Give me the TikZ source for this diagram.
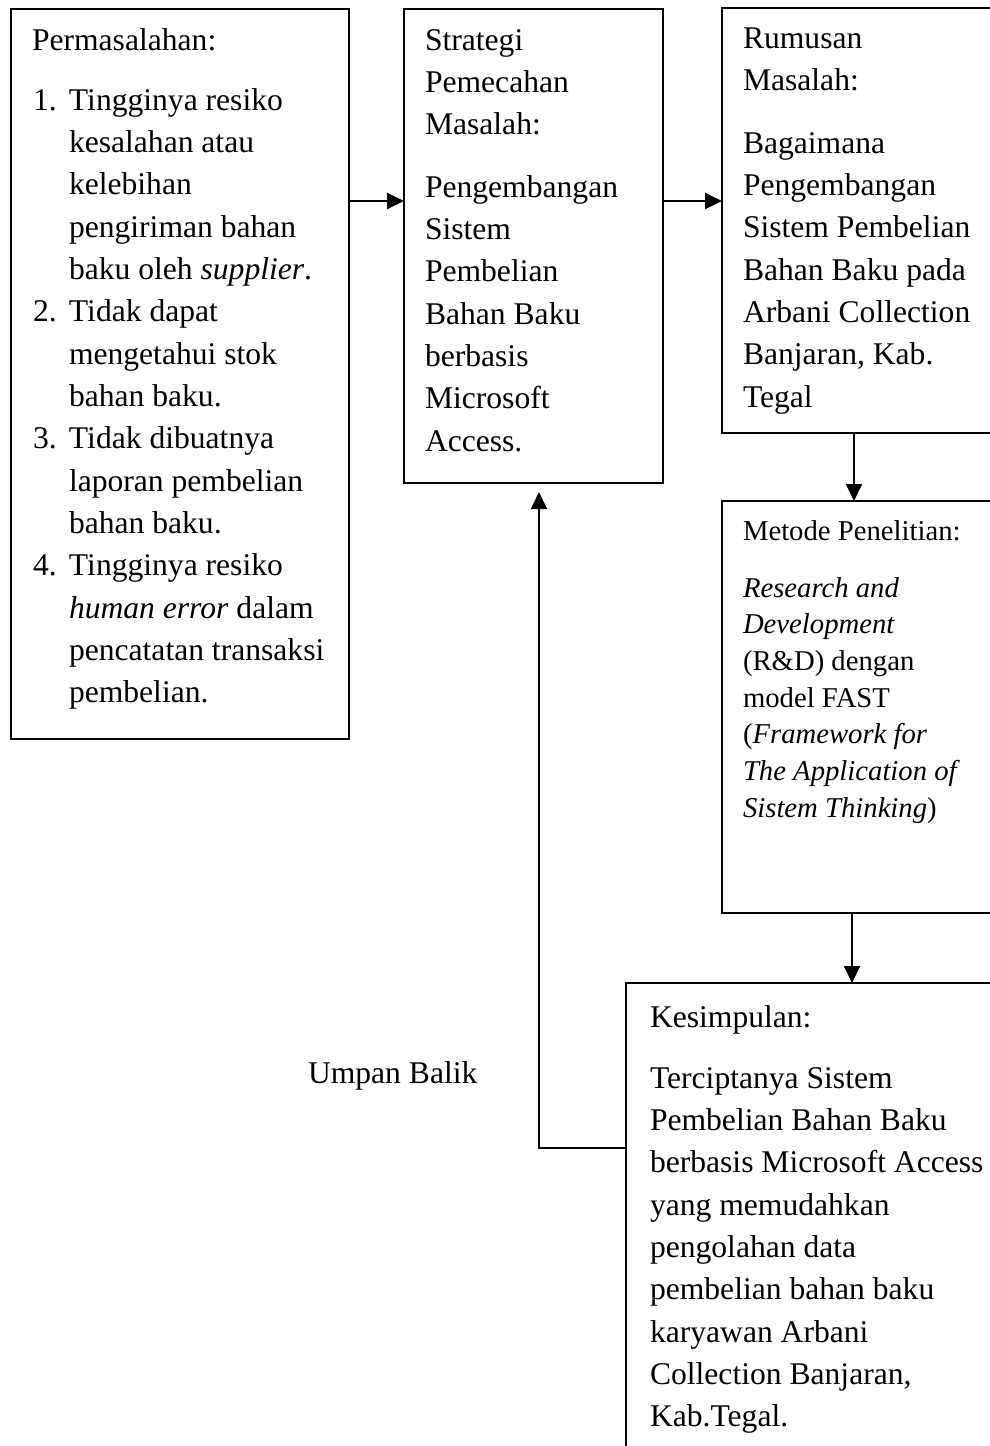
\documentclass[tikz,border=0pt]{standalone}
\usepackage{fontspec}
\setmainfont{Liberation Serif}
\usetikzlibrary{arrows.meta}
\newcommand\itemnum[1]{\makebox[36pt][l]{#1}}
\newcommand\itemind{\hspace*{36pt}}
\begin{document}
\begin{tikzpicture}[x=1pt,y=-1pt,
  box/.style={draw, line width=1.8pt, rectangle, anchor=north west, inner sep=0pt, outer sep=0pt},
  txt/.style={anchor=base west, inner sep=0pt, outer sep=0pt, font=\fontsize{31.6}{42.35}\selectfont},
  txtsm/.style={anchor=base west, inner sep=0pt, outer sep=0pt, font=\fontsize{28.7}{36.7}\selectfont},
  arr/.style={line width=1.8pt, -{Triangle[length=17pt,width=16pt]}}
]
\useasboundingbox (0,0) rectangle (990,1446);
\fill[white] (0,0) rectangle (990,1446);
\clip (0,0) rectangle (990,1446);

% boxes
\node[box, minimum width=338pt, minimum height=730pt] (b1) at (11,9) {};
\node[box, minimum width=259pt, minimum height=474pt] (b2) at (404,9) {};
\node[box, minimum width=300pt, minimum height=425pt] (b3) at (722,8) {};
\node[box, minimum width=300pt, minimum height=412pt] (b4) at (722,501) {};
\node[box, minimum width=400pt, minimum height=520pt] (b5) at (626,983) {};

% box 1 text
\node[txt] (t1h) at (32,50) {Permasalahan:};
\node[txt] (t1l) at (33,110) {\begin{tabular}[t]{@{}l@{}}
\itemnum{1.}Tingginya resiko\\
\itemind kesalahan atau\\
\itemind kelebihan\\
\itemind pengiriman bahan\\
\itemind baku oleh \textit{supplier}.\\
\itemnum{2.}Tidak dapat\\
\itemind mengetahui stok\\
\itemind bahan baku.\\
\itemnum{3.}Tidak dibuatnya\\
\itemind laporan pembelian\\
\itemind bahan baku.\\
\itemnum{4.}Tingginya resiko\\
\itemind \textit{human error} dalam\\
\itemind pencatatan transaksi\\
\itemind pembelian.
\end{tabular}};

% box 2 text
\node[txt] (t2h) at (425,50) {\begin{tabular}[t]{@{}l@{}}
Strategi\\ Pemecahan\\ Masalah:
\end{tabular}};
\node[txt] (t2b) at (425,197) {\begin{tabular}[t]{@{}l@{}}
Pengembangan\\ Sistem\\ Pembelian\\ Bahan Baku\\ berbasis\\ Microsoft\\ Access.
\end{tabular}};

% box 3 text
\node[txt] (t3h) at (743,48) {\begin{tabular}[t]{@{}l@{}}
Rumusan\\ Masalah:
\end{tabular}};
\node[txt] (t3b) at (743,153) {\begin{tabular}[t]{@{}l@{}}
Bagaimana\\ Pengembangan\\ Sistem Pembelian\\ Bahan Baku pada\\ Arbani Collection\\ Banjaran, Kab.\\ Tegal
\end{tabular}};

% box 4 text
\node[txtsm] (t4h) at (743,540) {Metode Penelitian:};
\node[txtsm] (t4b) at (743,597) {\begin{tabular}[t]{@{}l@{}}
\textit{Research and}\\ \textit{Development}\\ (R\&D) dengan\\ model FAST\\ (\textit{Framework for}\\ \textit{The Application of}\\ \textit{Sistem Thinking})
\end{tabular}};

% box 5 text
\node[txt] (t5h) at (650,1027) {Kesimpulan:};
\node[txt] (t5b) at (650,1088) {\begin{tabular}[t]{@{}l@{}}
Terciptanya Sistem\\ Pembelian Bahan Baku\\ berbasis Microsoft Access\\ yang memudahkan\\ pengolahan data\\ pembelian bahan baku\\ karyawan Arbani\\ Collection Banjaran,\\ Kab.Tegal.
\end{tabular}};

% feedback label
\node[txt] (fb) at (308,1083) {Umpan Balik};

% connectors
\draw[arr] (b1.east |- 0,201) -- (b2.west |- 0,201);
\draw[arr] (b2.east |- 0,201) -- (b3.west |- 0,201);
\draw[arr] (854,0 |- b3.south) -- (854,0 |- b4.north);
\draw[arr] (852,0 |- b4.south) -- (852,0 |- b5.north);
\coordinate (fbc) at (539,1148);
\draw[arr, shorten >=9pt] (b5.west |- fbc) -- (fbc) -- (fbc |- b2.south);
\end{tikzpicture}
\end{document}
